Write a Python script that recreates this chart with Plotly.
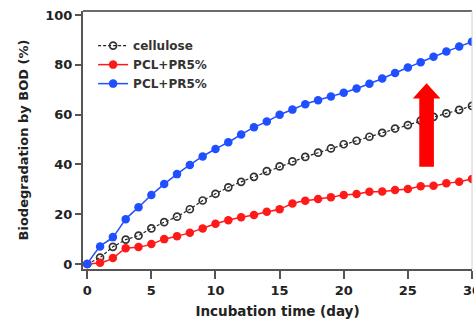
import plotly.graph_objects as go

days = list(range(31))
cellulose = [0, 2.6, 6.9, 9.8, 11.4, 14.3, 16.8, 19.0, 22.0, 25.5, 28.2, 30.8, 33.0, 35.0, 37.3,
             39.2, 41.2, 43.0, 44.7, 46.4, 48.1, 49.5, 51.1, 52.7, 54.4, 55.8, 57.6, 59.1, 60.5, 61.9, 63.5]
pcl_red = [0, 0.5, 2.4, 6.3, 6.8, 8.0, 10.0, 11.2, 12.6, 14.3, 16.2, 17.6, 18.8, 19.7, 21.0,
           22.0, 24.3, 25.4, 26.1, 26.8, 27.7, 28.1, 29.0, 29.1, 29.7, 30.1, 31.2, 31.4, 32.4, 33.0, 34.1]
pcl_blue = [0, 7.0, 10.8, 18.0, 22.8, 27.7, 32.1, 36.1, 39.8, 43.2, 46.2, 48.9, 52.0, 54.9, 57.2,
            59.9, 62.0, 64.2, 65.8, 67.3, 68.8, 70.5, 72.4, 74.5, 76.7, 78.9, 81.0, 83.2, 85.3, 87.3, 89.3]
names = ["cellulose", "PCL+PR5%", "PCL+PR5%"]
x_ticks = [0, 5, 10, 15, 20, 25, 30]
y_ticks = [0, 20, 40, 60, 80, 100]

# arrow annotation geometry (data units)
arrow_x, arrow_shaft_hw, arrow_head_hw = 26.46, 0.57, 1.08
arrow_bottom, arrow_head_base, arrow_top = 39.1, 66.5, 72.6

FONT = "DejaVu Sans"
BLUE = "#1f4fff"
RED = "#ff1a1a"

fig = go.Figure()
fig.add_trace(go.Scatter(
    x=days, y=cellulose, name=names[0], mode="lines+markers",
    line=dict(color="#222222", width=1.2, dash="3px,2px"),
    marker=dict(symbol="circle-open", size=7, color="#333333", line=dict(width=1.7, color="#333333")),
))
fig.add_trace(go.Scatter(
    x=days, y=pcl_red, name=names[1], mode="lines+markers",
    line=dict(color=RED, width=1.5, shape="spline", smoothing=0.6),
    marker=dict(symbol="circle", size=8.5, color=RED, line=dict(width=0)),
))
fig.add_trace(go.Scatter(
    x=days, y=pcl_blue, name=names[2], mode="lines+markers",
    line=dict(color=BLUE, width=1.5, shape="spline", smoothing=0.6),
    marker=dict(symbol="circle", size=8.5, color=BLUE, line=dict(width=0)),
))

ax, sh, hh = arrow_x, arrow_shaft_hw, arrow_head_hw
path = (f"M {ax-sh},{arrow_bottom} L {ax-sh},{arrow_head_base} L {ax-hh},{arrow_head_base} "
        f"L {ax},{arrow_top} L {ax+hh},{arrow_head_base} L {ax+sh},{arrow_head_base} "
        f"L {ax+sh},{arrow_bottom} Z")
fig.add_shape(type="path", path=path, xref="x", yref="y", fillcolor="#ff0000",
              line=dict(width=0), layer="above")
# frame top and right
fig.add_shape(type="line", xref="paper", yref="paper", x0=0, x1=1, y0=1, y1=1,
              line=dict(color="#6a6a6a", width=2))
fig.add_shape(type="line", xref="paper", yref="paper", x0=1, x1=1, y0=0, y1=1,
              line=dict(color="#d0d0d0", width=1))

fig.update_layout(
    width=474, height=325,
    margin=dict(l=83, r=2, t=11, b=56),
    paper_bgcolor="white", plot_bgcolor="white",
    font=dict(family=FONT, size=13, color="#222222"),
    showlegend=True,
    legend=dict(x=0.026, y=0.922, xanchor="left", yanchor="top",
                bgcolor="rgba(0,0,0,0)", itemwidth=30,
                font=dict(family=FONT, size=12, color="#333333", weight="bold")),
    xaxis=dict(range=[-0.33, 30], tickvals=x_ticks, showgrid=False, zeroline=False,
               showline=True, linecolor="#555555", linewidth=2, automargin=False,
               ticks="outside", ticklen=8, tickwidth=1.5, tickcolor="#555555",
               ticklabeloverflow="allow",
               tickfont=dict(family=FONT, size=13, color="#222222", weight="bold"),
               title=dict(text="Incubation time (day)", standoff=10,
                          font=dict(family=FONT, size=13.5, color="#222222", weight="bold"))),
    yaxis=dict(range=[-2.0, 101.6], tickvals=y_ticks, showgrid=False, zeroline=False,
               showline=True, linecolor="#555555", linewidth=2, automargin=False,
               ticks="outside", ticklen=6, tickwidth=1.5, tickcolor="#555555",
               tickfont=dict(family=FONT, size=13, color="#222222", weight="bold"),
               title=dict(text="Biodegradation by BOD (%)", standoff=14,
                          font=dict(family=FONT, size=13, color="#222222", weight="bold"))),
)

fig.write_html("out.html")
